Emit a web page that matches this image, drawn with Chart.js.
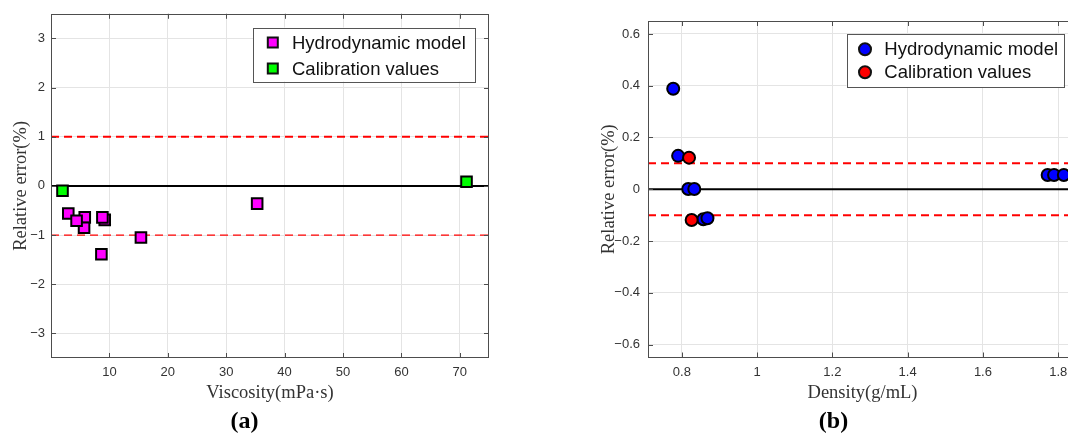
<!DOCTYPE html>
<html><head><meta charset="utf-8">
<script src="https://cdn.jsdelivr.net/npm/chart.js@4.4.1/dist/chart.umd.min.js"></script>
<style>
html,body{margin:0;padding:0;background:#fff;overflow:hidden;width:1068px;height:437px;position:relative;}
#ca{position:absolute;left:0;top:0;}
#cb{position:absolute;left:540px;top:0;}
</style></head><body>
<canvas id="ca" width="518" height="437"></canvas>
<canvas id="cb" width="610" height="437"></canvas>
<script>
// ---------- data ----------
const seriesNames = ['Hydrodynamic model', 'Calibration values'];
// (a) viscosity
const viscHydro = [2.96, 5.78, 5.66, 4.38, 9.2, 8.8, 8.63, 15.4, 35.3];
const errHydroA = [-0.56, -0.64, -0.85, -0.71, -0.69, -0.64, -1.39, -1.05, -0.36];
const viscCalib = [1.97, 71.15];
const errCalibA = [-0.10, 0.085];
const xTicksA = [10, 20, 30, 40, 50, 60, 70];
const yTicksA = [-3, -2, -1, 0, 1, 2, 3];
const xRangeA = [0, 75];
const yRangeA = [-3.5, 3.5];
const limitsA = [1, -1];
// (b) density
const densHydro = [0.777, 0.790, 0.817, 0.833, 0.857, 0.868, 1.772, 1.789, 1.815];
const errHydroB = [0.388, 0.129, 0.001, 0.001, -0.116, -0.112, 0.055, 0.055, 0.055];
const densCalib = [0.819, 0.826];
const errCalibB = [0.122, -0.119];
const xTicksB = [0.8, 1, 1.2, 1.4, 1.6, 1.8];
const yTicksB = [-0.6, -0.4, -0.2, 0, 0.2, 0.4, 0.6];
const xRangeB = [0.71, 1.85];
const yRangeB = [-0.65, 0.65];
const limitsB = [0.1, -0.1];

// ---------- helpers ----------
const pts = (xs, ys) => xs.map((x, i) => ({x: x, y: ys[i]}));
const fmt = v => String(Math.round(v * 100) / 100).replace('-', '\u2212');
const hline = (range, y) => [{x: range[0], y: y}, {x: range[1], y: y}];

const framePlugin = {
  id: 'frame',
  afterDatasetsDraw(chart, args, o) {
    const ctx = chart.ctx, a = chart.chartArea;
    const xs = chart.scales.x, ys = chart.scales.y;
    ctx.save();
    ctx.strokeStyle = '#4d4d4d';
    ctx.lineWidth = 1;
    ctx.beginPath();
    xs.ticks.forEach(t => {
      const p = Math.round(xs.getPixelForValue(t.value)) + 0.5;
      ctx.moveTo(p, a.bottom); ctx.lineTo(p, a.bottom - 5);
      ctx.moveTo(p, a.top); ctx.lineTo(p, a.top + 5);
    });
    ys.ticks.forEach(t => {
      const p = Math.round(ys.getPixelForValue(t.value)) + 0.5;
      ctx.moveTo(a.left, p); ctx.lineTo(a.left + 5, p);
      ctx.moveTo(a.right, p); ctx.lineTo(a.right - 5, p);
    });
    ctx.stroke();
    ctx.strokeRect(Math.round(a.left) + 0.5, Math.round(a.top) + 0.5, Math.round(a.width) - 1, Math.round(a.height) - 1);
    // legend box
    const L = o.legend;
    const bx = a.right - L.right - L.w, by = a.top + L.top;
    ctx.fillStyle = '#fff';
    ctx.fillRect(bx, by, L.w, L.h);
    ctx.strokeStyle = '#555';
    ctx.strokeRect(Math.round(bx) + 0.5, Math.round(by) + 0.5, L.w, L.h);
    const items = chart.data.datasets.filter(d => d.inLegend);
    ctx.font = '18.5px "Liberation Sans", Arial, sans-serif';
    ctx.textBaseline = 'middle';
    ctx.textAlign = 'left';
    items.forEach((d, i) => {
      const cy = by + L.rows[i];
      const cx = bx + L.mx;
      ctx.fillStyle = d.backgroundColor;
      ctx.strokeStyle = '#111';
      ctx.lineWidth = 2;
      ctx.beginPath();
      if (d.pointStyle === 'rect') ctx.rect(cx - L.ms / 2, cy - L.ms / 2, L.ms, L.ms);
      else ctx.arc(cx, cy, L.ms / 2, 0, Math.PI * 2);
      ctx.fill(); ctx.stroke();
      ctx.fillStyle = '#111';
      ctx.fillText(d.label, bx + L.tx, cy + 1);
    });
    ctx.restore();
  }
};

function makeChart(id, c) {
  const refSets = c.limits.map((lv, i) => ({
    type: 'line', data: hline(c.xRange, lv), showLine: true, pointRadius: 0,
    borderColor: '#ff0000', borderWidth: c.limitWidths[i], borderDash: [8, 5],
    fill: false, order: 10, inLegend: false
  }));
  const zeroSet = {
    type: 'line', data: hline(c.xRange, 0), showLine: true, pointRadius: 0,
    borderColor: '#000', borderWidth: 2, fill: false, order: 9, inLegend: false
  };
  const mk = (label, data, color, order) => ({
    label: label, data: data, backgroundColor: color, borderColor: '#000', borderWidth: 2,
    pointStyle: c.style, pointRadius: c.radius, pointHoverRadius: c.radius, order: order, inLegend: true
  });
  return new Chart(document.getElementById(id), {
    type: 'scatter',
    data: {datasets: [
      mk(seriesNames[0], c.hydro, c.colors[0], 2),
      mk(seriesNames[1], c.calib, c.colors[1], 1),
      zeroSet
    ].concat(refSets)},
    plugins: [framePlugin],
    options: {
      responsive: false, animation: false, devicePixelRatio: 1,
      layout: {padding: c.pad},
      plugins: {
        legend: {display: false}, tooltip: {enabled: false},
        title: {display: true, position: 'bottom', text: c.tag, color: '#000',
          font: {family: '"Liberation Serif", serif', size: 24, weight: 'bold', lineHeight: 1},
          padding: {top: 0, bottom: 3}},
        frame: {legend: c.legend}
      },
      scales: {
        x: {
          type: 'linear', min: c.xRange[0], max: c.xRange[1],
          afterBuildTicks: s => { s.ticks = c.xTicks.map(v => ({value: v})); },
          afterFit: s => { s.height = c.xh; },
          grid: {color: '#e4e4e4', drawTicks: false}, border: {display: false},
          ticks: {callback: v => fmt(v), color: '#333', padding: 7, maxRotation: 0, autoSkip: false,
            font: {family: '"Liberation Sans", Arial, sans-serif', size: 13}},
          title: {display: true, text: c.xTitle, color: '#333',
            font: {family: '"Liberation Serif", serif', size: 18.5, lineHeight: 1},
            padding: {top: 0, bottom: 7.75}}
        },
        y: {
          type: 'linear', min: c.yRange[0], max: c.yRange[1],
          afterBuildTicks: s => { s.ticks = c.yTicks.map(v => ({value: v})); },
          afterFit: s => { s.width = c.yw; },
          grid: {color: '#e4e4e4', drawTicks: false}, border: {display: false},
          ticks: {callback: v => fmt(v), color: '#333', padding: c.ytp, autoSkip: false,
            font: {family: '"Liberation Sans", Arial, sans-serif', size: 13}},
          title: {display: true, text: 'Relative error(%)', color: '#333',
            font: {family: '"Liberation Serif", serif', size: 18.5, lineHeight: 1},
            padding: {top: c.ytitle, bottom: 0}}
        }
      }
    }
  });
}

makeChart('ca', {
  hydro: pts(viscHydro, errHydroA), calib: pts(viscCalib, errCalibA),
  colors: ['#ff00ff', '#00ff00'], style: 'rect', radius: 7.5,
  xRange: xRangeA, yRange: yRangeA, xTicks: xTicksA, yTicks: yTicksA,
  limits: limitsA, limitWidths: [2, 1.2], xTitle: 'Viscosity(mPa\u00b7s)', tag: '(a)',
  pad: {left: 0, top: 13, right: 29, bottom: 0}, yw: 51, xh: 52, ytp: 6, ytitle: 11.75,
  legend: {right: 13.7, top: 13.7, w: 222, h: 54, rows: [15, 41], mx: 19.5, tx: 38.7, ms: 10}
});
makeChart('cb', {
  hydro: pts(densHydro, errHydroB), calib: pts(densCalib, errCalibB),
  colors: ['#0000ff', '#ff0000'], style: 'circle', radius: 6,
  xRange: xRangeB, yRange: yRangeB, xTicks: xTicksB, yTicks: yTicksB,
  limits: limitsB, limitWidths: [2, 2], xTitle: 'Density(g/mL)', tag: '(b)',
  pad: {left: 50, top: 21, right: 73, bottom: 0}, yw: 58, xh: 52.5, ytp: 8, ytitle: 9.45,
  legend: {right: 13.5, top: 13, w: 217, h: 53, rows: [15.3, 38.3], mx: 18.5, tx: 37.8, ms: 12}
});
</script>
</body></html>
